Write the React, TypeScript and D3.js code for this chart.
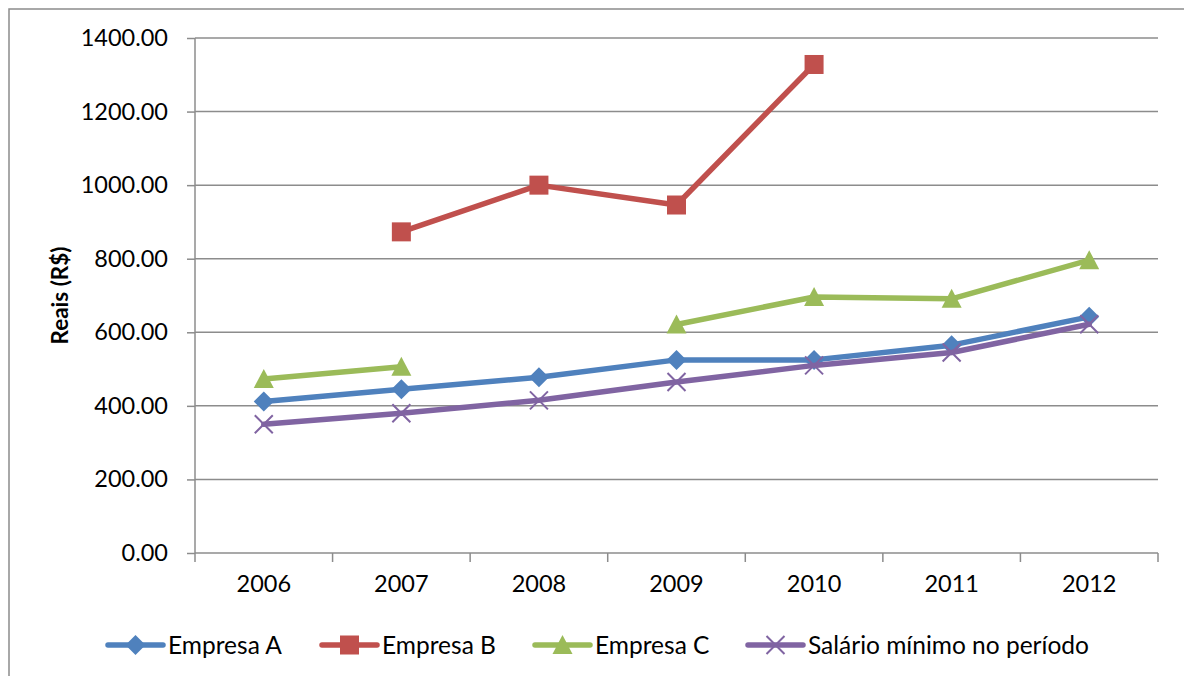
import { useEffect, useRef } from 'react';
import * as d3 from 'd3';

const years = ['2006', '2007', '2008', '2009', '2010', '2011', '2012'];
const empresaA = [412, 445, 478, 525, 525, 565, 642];
const empresaB: (number | null)[] = [null, 873, 1000, 946, 1328, null, null];
const empresaC: (number | null)[] = [473, 506, null, 621, 696, 691, 796];
const salarioMinimo = [350, 380, 415, 465, 510, 545, 622];
const yTicks = [0, 200, 400, 600, 800, 1000, 1200, 1400];

const seriesNames = ['Empresa A', 'Empresa B', 'Empresa C', 'Salário mínimo no período'];
const seriesColors = ['#4F81BD', '#C0504D', '#9BBB59', '#8064A2'];
const seriesMarkers = ['diamond', 'square', 'triangle', 'x'];

const FONT = 'Lato, "Open Sans", sans-serif';
const GRID = '#8c8c8c';

function drawMarker(g: d3.Selection<SVGGElement, unknown, null, undefined>, kind: string, x: number, y: number, color: string) {
  if (kind === 'diamond') {
    g.append('path').attr('d', `M${x},${y - 10}L${x + 10},${y}L${x},${y + 10}L${x - 10},${y}Z`).attr('fill', color);
  } else if (kind === 'square') {
    g.append('rect').attr('x', x - 9.5).attr('y', y - 9.5).attr('width', 19).attr('height', 19).attr('fill', color);
  } else if (kind === 'triangle') {
    g.append('path').attr('d', `M${x},${y - 10}L${x + 10},${y + 9}L${x - 10},${y + 9}Z`).attr('fill', color);
  } else {
    g.append('path').attr('d', `M${x - 9},${y - 9}L${x + 9},${y + 9}M${x - 9},${y + 9}L${x + 9},${y - 9}`)
      .attr('stroke', color).attr('stroke-width', 2).attr('fill', 'none');
  }
}

export default function App() {
  const svgRef = useRef<SVGSVGElement>(null);

  useEffect(() => {
    if (!svgRef.current) return;
    const svg = d3.select(svgRef.current);
    svg.selectAll('*').remove();

    const left = 195, right = 1158, top = 38, bottom = 553;

    const x = d3.scaleBand().domain(years).range([left, right]);
    const y = d3.scaleLinear().domain([0, 1400]).range([bottom, top]);

    // outer chart border
    svg.append('rect').attr('x', 9).attr('y', 9).attr('width', 1200).attr('height', 700)
      .attr('fill', 'none').attr('stroke', GRID).attr('stroke-width', 1.5);

    // gridlines
    svg.append('g').selectAll('line').data(yTicks.filter(d => d > 0)).enter().append('line')
      .attr('x1', left).attr('x2', right).attr('y1', d => y(d)).attr('y2', d => y(d))
      .attr('stroke', GRID).attr('stroke-width', 1.5);

    // y axis
    const yAxis = svg.append('g')
      .attr('transform', `translate(${left},0)`)
      .call(d3.axisLeft(y).tickValues(yTicks).tickSize(8).tickPadding(19).tickFormat(d => (d as number).toFixed(2)));
    yAxis.selectAll('line').attr('stroke', GRID).attr('stroke-width', 1.5);
    yAxis.select('.domain').attr('stroke', GRID).attr('stroke-width', 1.5).attr('d', `M0,${top}V${bottom}`);
    yAxis.selectAll('text').style('font-family', FONT).style('font-size', '23.5px').attr('fill', '#000');

    // x axis
    const xAxis = svg.append('g')
      .attr('transform', `translate(0,${bottom})`)
      .call(d3.axisBottom(x).tickSize(0).tickPadding(22));
    xAxis.select('.domain').attr('stroke', GRID).attr('stroke-width', 1.5).attr('d', `M${left},0H${right}`);
    xAxis.selectAll('text').style('font-family', FONT).style('font-size', '23.5px').attr('fill', '#000');
    xAxis.selectAll('.edge').data(years.concat(['end'])).enter().append('line')
      .attr('x1', (d, i) => left + i * x.bandwidth()).attr('x2', (d, i) => left + i * x.bandwidth())
      .attr('y1', 0).attr('y2', 9).attr('stroke', GRID).attr('stroke-width', 1.5);

    // y title
    svg.append('text')
      .attr('transform', `translate(68,${(top + bottom) / 2}) rotate(-90)`)
      .attr('text-anchor', 'middle')
      .style('font-family', FONT).style('font-size', '22.5px').style('font-weight', 'bold')
      .text('Reais (R$)');

    const allSeries = [empresaA, empresaB, empresaC, salarioMinimo];
    const cx = (i: number) => (x(years[i]) || 0) + x.bandwidth() / 2;

    allSeries.forEach((vals, si) => {
      const g = svg.append('g');
      const line = d3.line<number | null>()
        .defined(d => d != null)
        .x((d, i) => cx(i))
        .y(d => y(d as number));
      g.append('path').datum(vals).attr('d', line).attr('fill', 'none')
        .attr('stroke', seriesColors[si]).attr('stroke-width', 5.5)
        .attr('stroke-linejoin', 'round').attr('stroke-linecap', 'round');
      vals.forEach((v, i) => {
        if (v == null) return;
        drawMarker(g, seriesMarkers[si], cx(i), y(v), seriesColors[si]);
      });
    });

    // legend
    const legendX = [108, 322, 535, 748];
    const legendY = 645;
    seriesNames.forEach((name, si) => {
      const g = svg.append('g');
      const lx = legendX[si];
      g.append('line').attr('x1', lx).attr('x2', lx + 55).attr('y1', legendY).attr('y2', legendY)
        .attr('stroke', seriesColors[si]).attr('stroke-width', 5.5).attr('stroke-linecap', 'round');
      drawMarker(g, seriesMarkers[si], lx + 27.5, legendY, seriesColors[si]);
      g.append('text').attr('x', lx + 60).attr('y', legendY).attr('dy', '0.35em')
        .style('font-family', FONT).style('font-size', '24.5px').text(name);
    });
  }, []);

  return (
    <div style={{ position: 'absolute', left: 0, top: 0, width: 1184, height: 676, background: '#fff', overflow: 'hidden' }}>
      <svg ref={svgRef} width={1184} height={676} style={{ display: 'block' }}></svg>
    </div>
  );
}
